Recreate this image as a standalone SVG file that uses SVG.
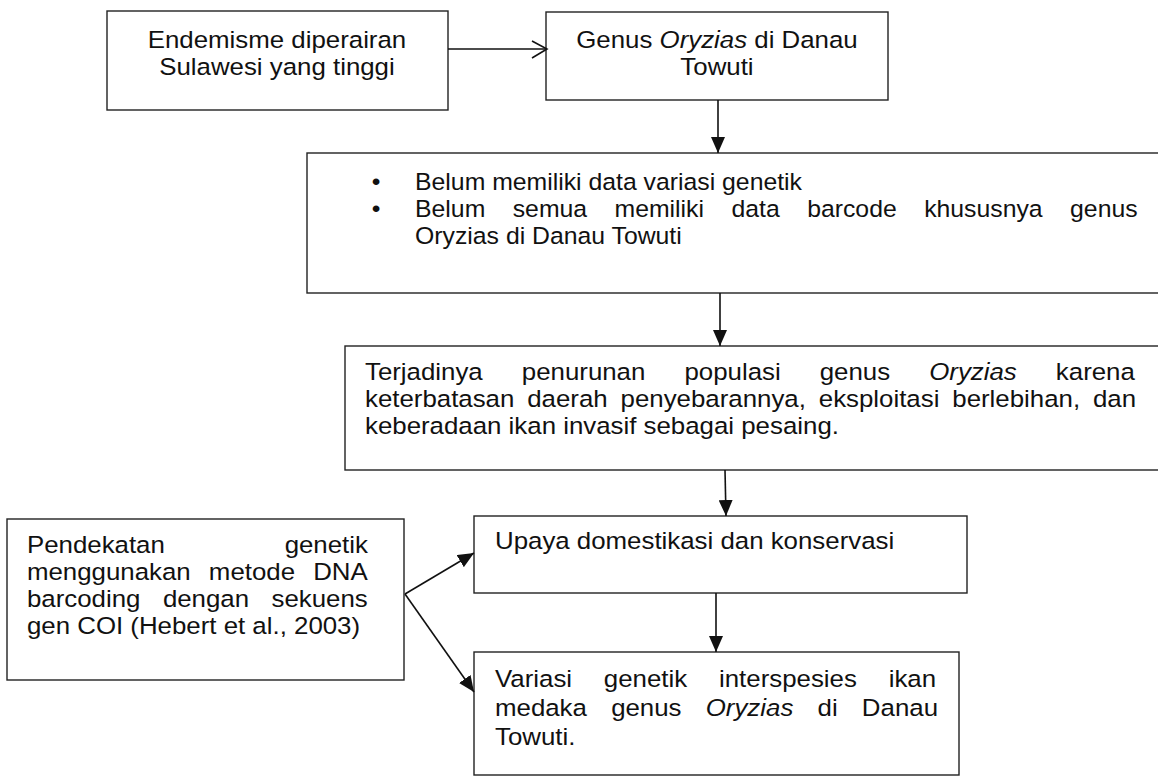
<svg xmlns="http://www.w3.org/2000/svg" width="1158" height="778" viewBox="0 0 1158 778">
<style>
.box{fill:#fff;stroke:#222;stroke-width:1.4}
.t{font-family:"Liberation Sans",Arial,sans-serif;font-size:23.5px;fill:#111}
.c{text-anchor:middle}
.e{text-anchor:end}
.i{font-style:italic}
.ln{stroke:#111;stroke-width:1.6;fill:none}
</style>
<defs>
<marker id="ah" markerUnits="userSpaceOnUse" markerWidth="16" markerHeight="14" refX="16" refY="7" orient="auto">
<path d="M0,0 L16,7 L0,14 Z" fill="#111"/>
</marker>
</defs>
<rect width="1158" height="778" fill="#fff"/>

<g id="n1">
<rect class="box" x="107" y="11" width="341" height="99"/>
<g transform="scale(1.1 1)">
<text class="t c" x="251.8" y="48">Endemisme diperairan</text>
<text class="t c" x="251.8" y="75">Sulawesi yang tinggi</text>
</g>
</g>

<g id="n2">
<rect class="box" x="546" y="12" width="342" height="88"/>
<g transform="scale(1.1 1)">
<text class="t c" x="651.8" y="48">Genus <tspan class="i">Oryzias</tspan> di Danau</text>
<text class="t c" x="651.8" y="75">Towuti</text>
</g>
</g>

<g id="n3">
<rect class="box" x="307" y="153" width="870" height="140"/>
<g transform="scale(1.055 1)">
<text class="t c" x="356.4" y="190">•</text>
<text class="t c" x="356.4" y="217">•</text>
<text class="t" x="393.4" y="190">Belum memiliki data variasi genetik</text>
<text class="t" x="393.4" y="217" word-spacing="19.5">Belum semua memiliki data barcode khususnya genus</text>
<text class="t" x="393.4" y="244">Oryzias di Danau Towuti</text>
</g>
</g>

<g id="n4">
<rect class="box" x="345" y="346" width="830" height="124"/>
<g transform="scale(1.1 1)">
<text class="t" x="331.8" y="380" word-spacing="29">Terjadinya penurunan populasi genus <tspan class="i">Oryzias</tspan> karena</text>
<text class="t" x="331.8" y="407" word-spacing="5.2">keterbatasan daerah penyebarannya, eksploitasi berlebihan, dan</text>
<text class="t" x="331.8" y="434">keberadaan ikan invasif sebagai pesaing.</text>
</g>
</g>

<g id="n5">
<rect class="box" x="474" y="516" width="493" height="77"/>
<g transform="scale(1.1 1)">
<text class="t" x="450" y="549">Upaya domestikasi dan konservasi</text>
</g>
</g>

<g id="n6">
<rect class="box" x="7" y="519" width="397" height="161"/>
<g transform="scale(1.1 1)">
<text class="t" x="24.5" y="553">Pendekatan</text>
<text class="t e" x="334.5" y="553">genetik</text>
<text class="t" x="24.5" y="580" word-spacing="10">menggunakan metode DNA</text>
<text class="t" x="24.5" y="607" word-spacing="13.9">barcoding dengan sekuens</text>
<text class="t" x="24.5" y="634">gen COI (Hebert et al., 2003)</text>
</g>
</g>

<g id="n7">
<rect class="box" x="474" y="652" width="485" height="123"/>
<g transform="scale(1.1 1)">
<text class="t" x="450" y="687" word-spacing="22.4">Variasi genetik interspesies ikan</text>
<text class="t" x="450" y="716" word-spacing="15.5">medaka genus <tspan class="i">Oryzias</tspan> di Danau</text>
<text class="t" x="450" y="745">Towuti.</text>
</g>
</g>

<g id="connectors">
<line class="ln" x1="448" y1="49" x2="546" y2="49"/>
<polyline class="ln" points="532,41 547,49 532,58"/>
<line class="ln" x1="718" y1="100" x2="718" y2="153" marker-end="url(#ah)"/>
<line class="ln" x1="720" y1="293" x2="720" y2="346" marker-end="url(#ah)"/>
<line class="ln" x1="725" y1="470" x2="726" y2="516" marker-end="url(#ah)"/>
<line class="ln" x1="716" y1="593" x2="716" y2="652" marker-end="url(#ah)"/>
<line class="ln" x1="405" y1="594" x2="474" y2="553" marker-end="url(#ah)"/>
<line class="ln" x1="405" y1="594" x2="474" y2="692" marker-end="url(#ah)"/>
</g>
</svg>
